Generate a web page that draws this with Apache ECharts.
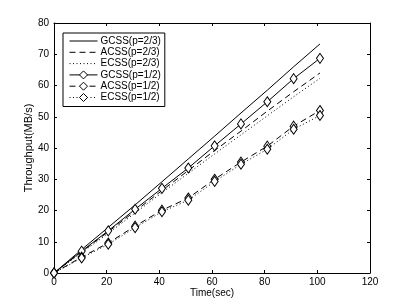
<!DOCTYPE html>
<html><head><meta charset="utf-8">
<script src="https://cdn.jsdelivr.net/npm/echarts@6/dist/echarts.min.js"></script>
<style>html,body{margin:0;padding:0;background:#fff}#c{width:409px;height:308px}</style>
</head><body><div id="c"></div>
<script>
const timeSec = [0, 10.5, 20.6, 30.8, 41, 51, 61, 71, 81, 91, 101];
const gcss23 = [0, 7.5, 14.6, 21.8, 29.2, 36.5, 43.8, 51.2, 58.5, 66.0, 73.3];
const acss23 = [0, 6.8, 13.2, 19.8, 26.4, 32.8, 39.2, 45.4, 51.8, 58.0, 64.0];
const ecss23 = [0, 6.5, 12.7, 19.2, 25.7, 31.9, 38.1, 44.2, 50.3, 56.4, 62.3];
const gcss12 = [0, 7.0, 13.5, 20.4, 27.1, 33.6, 40.7, 47.7, 54.8, 62.2, 68.7];
const acss12 = [0, 5.1, 9.6, 15.0, 20.1, 24.0, 30.0, 35.5, 40.6, 47.0, 52.0];
const ecss12 = [0, 4.8, 9.2, 14.5, 19.6, 23.3, 29.3, 34.8, 39.6, 46.0, 50.4];
const seriesNames = ['GCSS(p=2/3)','ACSS(p=2/3)','ECSS(p=2/3)','GCSS(p=1/2)','ACSS(p=1/2)','ECSS(p=1/2)'];
const xTicks = [0,20,40,60,80,100,120];
const yTicks = [0,10,20,30,40,50,60,70,80];

const FONT = 'Liberation Sans, Arial, sans-serif';
const pairs = ys => timeSec.map((x,i)=>[x, ys[i]]);
const styles = [
  {type:'solid', marker:false},
  {type:[6,4], marker:false},
  {type:[1,2.5], marker:false},
  {type:'solid', marker:true},
  {type:[6,4], marker:true},
  {type:[1,2.5], marker:true}
];
const data = [gcss23, acss23, ecss23, gcss12, acss12, ecss12];
const series = data.map((ys,i)=>({
  name: seriesNames[i],
  type:'line',
  data: pairs(ys),
  showSymbol: styles[i].marker,
  symbol: 'diamond',
  symbolSize: [7,10],
  itemStyle:{color:'#fff', borderColor:'#000', borderWidth:1},
  lineStyle:{color:'#000', width:1, type: styles[i].type},
  animation:false,
  z: i
}));
const axisCommon = {
  axisLine:{show:true, onZero:false, lineStyle:{color:'#000', width:1}},
  axisTick:{show:true, inside:true, length:3, lineStyle:{color:'#000'}},
  splitLine:{show:false}
};
const chart = echarts.init(document.getElementById('c'), null, {renderer:'canvas'});
chart.setOption({
  backgroundColor:'#fff',
  animation:false,
  grid:{left:54, right:39, top:23, bottom:35},
  legend:{
    data: seriesNames.map((n,i)=>styles[i].marker
      ? {name:n}
      : {name:n, itemStyle:{opacity:0, borderWidth:0, color:'transparent', borderColor:'transparent'}}),
    orient:'vertical', left:63, top:33,
    itemWidth:28, itemHeight:10, itemGap:1.3,
    padding:[3,4,4,6],
    borderColor:'#000', borderWidth:1, backgroundColor:'#fff',
    lineStyle:{width:1},
    itemStyle:{borderWidth:1, color:'#fff', borderColor:'#000'},
    textStyle:{color:'#000', fontSize:10, fontFamily:FONT, padding:[0,0,0,-2]}
  },
  xAxis:[
    Object.assign({}, axisCommon, {type:'value', min:0, max:120, interval:20, position:'bottom',
      axisLabel:{color:'#000', fontSize:10, fontFamily:FONT, margin:4},
      name:'Time(sec)', nameLocation:'middle', nameGap:15, nameMoveOverlap:false,
      nameTextStyle:{color:'#000', fontSize:10, fontFamily:FONT}}),
    Object.assign({}, axisCommon, {type:'value', min:0, max:120, interval:20, position:'top',
      axisLabel:{show:false}})
  ],
  yAxis:[
    Object.assign({}, axisCommon, {type:'value', min:0, max:80, interval:10, position:'left',
      axisLabel:{color:'#000', fontSize:10, fontFamily:FONT, margin:5},
      name:'Throughput(MB/s)', nameLocation:'middle', nameGap:20, nameMoveOverlap:false,
      nameTextStyle:{color:'#000', fontSize:11, fontFamily:FONT}}),
    Object.assign({}, axisCommon, {type:'value', min:0, max:80, interval:10, position:'right',
      axisLabel:{show:false}})
  ],
  series: series
});
</script></body></html>
